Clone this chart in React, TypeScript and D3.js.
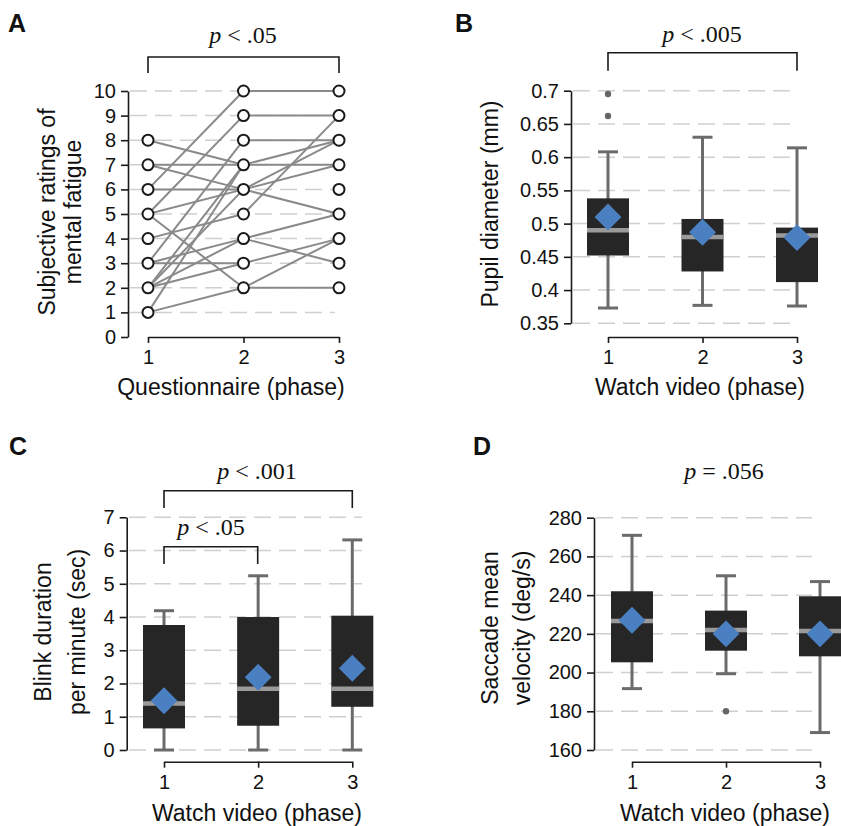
import React, { useEffect, useRef } from 'react';
import * as d3 from 'd3';

const phases = ['1', '2', '3'];

// A: subjective ratings of mental fatigue (questionnaire)
const fatigueTicks = [0, 1, 2, 3, 4, 5, 6, 7, 8, 9, 10];
const fatigueGrid = [1, 2, 3, 4, 5, 6, 7, 8, 9, 10];
const fatiguePhase1 = [8, 7, 6, 5, 4, 3, 2, 1];
const fatiguePhase2 = [10, 9, 8, 7, 6, 5, 4, 3, 2];
const fatiguePhase3 = [10, 9, 8, 7, 6, 5, 4, 3, 2];
const fatigueLinks12 = [
  [8, 7], [7, 7], [7, 6], [6, 6], [6, 10], [5, 9], [5, 6], [5, 2], [4, 5],
  [3, 3], [3, 4], [3, 8], [2, 3], [2, 4], [2, 6], [2, 7], [1, 2], [1, 7],
];
const fatigueLinks23 = [
  [10, 10], [9, 9], [8, 8], [7, 7], [7, 8], [6, 8], [6, 7], [6, 5], [5, 9],
  [4, 5], [4, 3], [3, 4], [2, 4], [2, 2],
];

// B: pupil diameter
const pupilTicks = [0.35, 0.4, 0.45, 0.5, 0.55, 0.6, 0.65, 0.7];
const pupilLow = [0.373, 0.377, 0.376];
const pupilQ1 = [0.452, 0.428, 0.412];
const pupilMedian = [0.49, 0.48, 0.482];
const pupilQ3 = [0.538, 0.507, 0.494];
const pupilHigh = [0.608, 0.63, 0.614];
const pupilMean = [0.51, 0.487, 0.479];
const pupilOutliers = [[0.695, 0.662], [], []];

// C: blink duration per minute
const blinkTicks = [0, 1, 2, 3, 4, 5, 6, 7];
const blinkLow = [0, 0, 0];
const blinkQ1 = [0.65, 0.73, 1.3];
const blinkMedian = [1.4, 1.84, 1.84];
const blinkQ3 = [3.76, 4.0, 4.04];
const blinkHigh = [4.19, 5.24, 6.32];
const blinkMean = [1.48, 2.19, 2.46];

// D: saccade mean velocity
const saccadeTicks = [160, 180, 200, 220, 240, 260, 280];
const saccadeLow = [191.7, 199.4, 169];
const saccadeQ1 = [205.3, 211.3, 208.4];
const saccadeMedian = [226.6, 222, 221.5];
const saccadeQ3 = [242, 232, 239.4];
const saccadeHigh = [270.9, 250, 247];
const saccadeMean = [227, 220, 220];
const saccadeOutliers = [[], [180], []];

const SANS = 'Liberation Sans, Arial, Helvetica, sans-serif';
const SERIF = 'Liberation Serif, Times New Roman, serif';

function styleAxis(g) {
  g.select('.domain').attr('stroke', '#1a1a1a').attr('stroke-width', 1.6);
  g.selectAll('.tick line').attr('stroke', '#1a1a1a').attr('stroke-width', 1.6);
  g.selectAll('.tick text')
    .attr('font-family', SANS)
    .attr('font-size', 20)
    .attr('fill', '#111');
}

function drawYAxis(svg, y, x, ticks, fmt) {
  svg
    .append('g')
    .attr('transform', `translate(${x},0)`)
    .call(d3.axisLeft(y).tickValues(ticks).tickSize(7).tickSizeOuter(0).tickPadding(5).tickFormat(fmt))
    .call(styleAxis);
}

function drawXAxis(svg, x, yPos) {
  svg
    .append('g')
    .attr('transform', `translate(0,${yPos})`)
    .call(d3.axisBottom(x).tickSize(6).tickSizeOuter(0).tickPadding(7))
    .call(styleAxis);
}

function drawGrid(svg, y, values, x1, x2) {
  svg
    .append('g')
    .selectAll('line')
    .data(values)
    .join('line')
    .attr('x1', x1)
    .attr('x2', x2)
    .attr('y1', (d) => y(d))
    .attr('y2', (d) => y(d))
    .attr('stroke', '#cfcfcf')
    .attr('stroke-width', 1.5)
    .attr('stroke-dasharray', '17,8');
}

function drawLetter(svg, letter, x, y) {
  svg
    .append('text')
    .attr('x', x)
    .attr('y', y)
    .attr('font-family', SANS)
    .attr('font-weight', 'bold')
    .attr('font-size', 25)
    .attr('fill', '#111')
    .text(letter);
}

function drawPText(svg, cx, baseline, rest) {
  const t = svg
    .append('text')
    .attr('x', cx)
    .attr('y', baseline)
    .attr('text-anchor', 'middle')
    .attr('font-family', SERIF)
    .attr('font-size', 24)
    .attr('fill', '#111');
  t.append('tspan').attr('font-style', 'italic').text('p');
  t.append('tspan').text(rest);
}

function drawBracket(svg, x1, x2, top, bottom) {
  svg
    .append('path')
    .attr('d', `M${x1},${bottom}V${top}H${x2}V${bottom}`)
    .attr('fill', 'none')
    .attr('stroke', '#1a1a1a')
    .attr('stroke-width', 1.6);
}

function drawYTitle(svg, lines, xs, cy) {
  lines.forEach((line, i) => {
    svg
      .append('text')
      .attr('transform', `translate(${xs[i]},${cy}) rotate(-90)`)
      .attr('text-anchor', 'middle')
      .attr('dy', '0.35em')
      .attr('font-family', SANS)
      .attr('font-size', 23)
      .attr('fill', '#111')
      .text(line);
  });
}

function drawXTitle(svg, text, cx, baseline) {
  svg
    .append('text')
    .attr('x', cx)
    .attr('y', baseline)
    .attr('text-anchor', 'middle')
    .attr('font-family', SANS)
    .attr('font-size', 23)
    .attr('fill', '#111')
    .text(text);
}

function drawBoxes(svg, x, y, low, q1, med, q3, high, mean, outliers) {
  const boxW = 42;
  const capW = 20;
  const g = svg.append('g');
  const items = phases.map((p, i) => ({ p, i }));

  g.selectAll('line.whisker')
    .data(items)
    .join('line')
    .attr('class', 'whisker')
    .attr('x1', (d) => x(d.p))
    .attr('x2', (d) => x(d.p))
    .attr('y1', (d) => y(low[d.i]))
    .attr('y2', (d) => y(high[d.i]))
    .attr('stroke', '#6b6b6b')
    .attr('stroke-width', 3);

  ['low', 'high'].forEach((k) => {
    const arr = k === 'low' ? low : high;
    g.selectAll(`line.cap-${k}`)
      .data(items)
      .join('line')
      .attr('class', `cap-${k}`)
      .attr('x1', (d) => x(d.p) - capW / 2)
      .attr('x2', (d) => x(d.p) + capW / 2)
      .attr('y1', (d) => y(arr[d.i]))
      .attr('y2', (d) => y(arr[d.i]))
      .attr('stroke', '#6b6b6b')
      .attr('stroke-width', 3);
  });

  g.selectAll('rect')
    .data(items)
    .join('rect')
    .attr('x', (d) => x(d.p) - boxW / 2)
    .attr('width', boxW)
    .attr('y', (d) => y(q3[d.i]))
    .attr('height', (d) => y(q1[d.i]) - y(q3[d.i]))
    .attr('fill', '#262626');

  g.selectAll('line.median')
    .data(items)
    .join('line')
    .attr('class', 'median')
    .attr('x1', (d) => x(d.p) - boxW / 2)
    .attr('x2', (d) => x(d.p) + boxW / 2)
    .attr('y1', (d) => y(med[d.i]))
    .attr('y2', (d) => y(med[d.i]))
    .attr('stroke', '#9a9a9a')
    .attr('stroke-width', 4.5);

  const outs = [];
  outliers.forEach((arr, i) => arr.forEach((v) => outs.push({ p: phases[i], v })));
  g.selectAll('circle')
    .data(outs)
    .join('circle')
    .attr('cx', (d) => x(d.p))
    .attr('cy', (d) => y(d.v))
    .attr('r', 3.2)
    .attr('fill', '#666');

  const diamond = d3.symbol(d3.symbolSquare, 19 * 19);
  g.selectAll('path.mean')
    .data(items)
    .join('path')
    .attr('class', 'mean')
    .attr('d', diamond)
    .attr('transform', (d) => `translate(${x(d.p)},${y(mean[d.i])}) rotate(45)`)
    .attr('fill', '#4a7fc1');
}

export default function App() {
  const ref = useRef(null);

  useEffect(() => {
    const svg = d3.select(ref.current);
    svg.selectAll('*').remove();

    // ---------- A ----------
    {
      const y = d3.scaleLinear().domain([0, 10]).range([337, 91]);
      const x = d3.scalePoint().domain(phases).range([148, 339]);
      drawGrid(svg, y, fatigueGrid, 130, 335);
      drawYAxis(svg, y, 128, fatigueTicks, d3.format('d'));
      drawXAxis(svg, x, 337);

      const links = [
        ...fatigueLinks12.map(([a, b]) => ({ from: ['1', a], to: ['2', b] })),
        ...fatigueLinks23.map(([a, b]) => ({ from: ['2', a], to: ['3', b] })),
      ];
      svg
        .append('g')
        .selectAll('line')
        .data(links)
        .join('line')
        .attr('x1', (d) => x(d.from[0]))
        .attr('y1', (d) => y(d.from[1]))
        .attr('x2', (d) => x(d.to[0]))
        .attr('y2', (d) => y(d.to[1]))
        .attr('stroke', '#8a8a8a')
        .attr('stroke-width', 2);

      const pts = [
        ...fatiguePhase1.map((v) => ({ p: '1', v })),
        ...fatiguePhase2.map((v) => ({ p: '2', v })),
        ...fatiguePhase3.map((v) => ({ p: '3', v })),
      ];
      svg
        .append('g')
        .selectAll('circle')
        .data(pts)
        .join('circle')
        .attr('cx', (d) => x(d.p))
        .attr('cy', (d) => y(d.v))
        .attr('r', 5.5)
        .attr('fill', '#fff')
        .attr('stroke', '#1a1a1a')
        .attr('stroke-width', 2);

      drawLetter(svg, 'A', 8, 32);
      drawBracket(svg, 148, 339, 57, 73);
      drawPText(svg, 243, 43, ' < .05');
      drawYTitle(svg, ['Subjective ratings of', 'mental fatigue'], [47, 73], 212);
      drawXTitle(svg, 'Questionnaire (phase)', 231, 395);
    }

    // ---------- B ----------
    {
      const y = d3.scaleLinear().domain([0.35, 0.7]).range([323.3, 90.7]);
      const x = d3.scalePoint().domain(phases).range([608, 797]);
      drawGrid(svg, y, pupilTicks, 573, 797);
      drawYAxis(svg, y, 571, pupilTicks, (d) => String(+d.toFixed(2)));
      drawXAxis(svg, x, 337);
      drawBoxes(svg, x, y, pupilLow, pupilQ1, pupilMedian, pupilQ3, pupilHigh, pupilMean, pupilOutliers);
      drawLetter(svg, 'B', 455, 32);
      drawBracket(svg, 608, 797, 52.7, 70.7);
      drawPText(svg, 702, 42, ' < .005');
      drawYTitle(svg, ['Pupil diameter (mm)'], [490], 204);
      drawXTitle(svg, 'Watch video (phase)', 700, 395);
    }

    // ---------- C ----------
    {
      const y = d3.scaleLinear().domain([0, 7]).range([750, 517.3]);
      const x = d3.scalePoint().domain(phases).range([164, 352.3]);
      drawGrid(svg, y, blinkTicks, 129, 362);
      drawYAxis(svg, y, 126.7, blinkTicks, d3.format('d'));
      drawXAxis(svg, x, 761.7);
      drawBoxes(svg, x, y, blinkLow, blinkQ1, blinkMedian, blinkQ3, blinkHigh, blinkMean, [[], [], []]);
      drawLetter(svg, 'C', 9, 455);
      drawBracket(svg, 164, 352.3, 490.7, 508);
      drawPText(svg, 257, 479, ' < .001');
      drawBracket(svg, 164, 257.7, 546.7, 564);
      drawPText(svg, 211, 535, ' < .05');
      drawYTitle(svg, ['Blink duration', 'per minute (sec)'], [43, 77], 632);
      drawXTitle(svg, 'Watch video (phase)', 257, 821);
    }

    // ---------- D ----------
    {
      const y = d3.scaleLinear().domain([160, 280]).range([750, 517.7]);
      const x = d3.scalePoint().domain(phases).range([632, 820]);
      drawGrid(svg, y, saccadeTicks, 596, 812);
      drawYAxis(svg, y, 594, saccadeTicks, d3.format('d'));
      drawXAxis(svg, x, 761.7);
      drawBoxes(svg, x, y, saccadeLow, saccadeQ1, saccadeMedian, saccadeQ3, saccadeHigh, saccadeMean, saccadeOutliers);
      drawLetter(svg, 'D', 473, 455);
      drawPText(svg, 724, 479, ' = .056');
      drawYTitle(svg, ['Saccade mean', 'velocity (deg/s)'], [490, 522], 628);
      drawXTitle(svg, 'Watch video (phase)', 725, 821);
    }
  }, []);

  return (
    <svg
      ref={ref}
      width={841}
      height={826}
      viewBox="0 0 841 826"
      style={{ position: 'absolute', left: 0, top: 0, background: '#fff' }}
    />
  );
}
